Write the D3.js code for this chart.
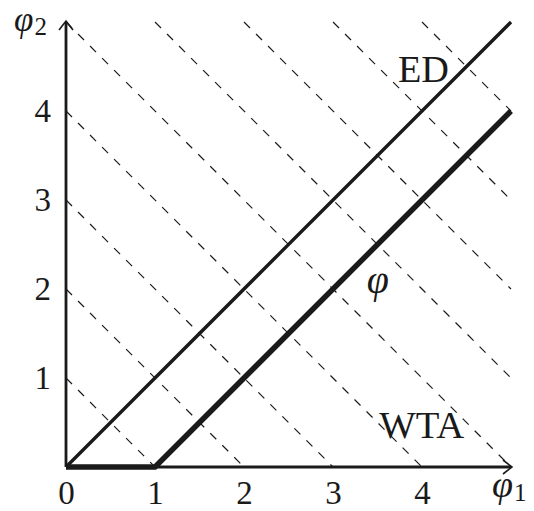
<!DOCTYPE html>
<html>
<head>
<meta charset="utf-8">
<script src="https://cdn.jsdelivr.net/npm/d3@7"></script>
<style>
  html, body { margin: 0; padding: 0; background: #fff; }
  svg { display: block; }
  text { font-family: "Liberation Serif", "DejaVu Serif", serif; fill: #1a1a1a; }
</style>
</head>
<body>
<svg id="chart" width="534" height="511"></svg>
<script>
// ---- data ----
const xTicks = [0, 1, 2, 3, 4];
const yTicks = [1, 2, 3, 4];
const axisMax = 5;
const isoLevels = [1, 2, 3, 4, 5, 6, 7, 8, 9];      // dashed lines  phi1 + phi2 = c
const edLine = [[0, 0], [5, 5]];                    // ED
const phiLine = [[0, 0], [1, 0], [5, 4]];           // phi (thick)
const textLabels = [
  { text: "ED",  x: 3.73, y: 4.33 },
  { text: "WTA", x: 3.52, y: 0.33 },
];

// ---- layout ----
const svg = d3.select("#chart");
const x = d3.scaleLinear().domain([0, axisMax]).range([66, 511]);
const y = d3.scaleLinear().domain([0, axisMax]).range([467, 22]);
const ink = "#1a1a1a";
const line = d3.line().x(d => x(d[0])).y(d => y(d[1]));

// dashed iso lines, clipped to the square [0,5]x[0,5]
svg.append("g").selectAll("path").data(isoLevels).join("path")
  .attr("d", c => line([[Math.max(0, c - axisMax), Math.min(c, axisMax)],
                        [Math.min(c, axisMax), Math.max(0, c - axisMax)]]))
  .attr("fill", "none").attr("stroke", ink).attr("stroke-width", 1.2)
  .attr("stroke-dasharray", "8.5,8.5");

// axes (lines with arrow tips)
svg.append("path").attr("d", line([[0, 0], [axisMax, 0]]))
  .attr("stroke", ink).attr("stroke-width", 3.2).attr("fill", "none");
svg.append("path").attr("d", line([[0, 0], [0, axisMax]]))
  .attr("stroke", ink).attr("stroke-width", 2.8).attr("fill", "none");
// arrow tips
const ax = x(axisMax), ay = y(0);
svg.append("path")
  .attr("d", `M${ax - 8},${ay - 7} L${ax + 1},${ay} L${ax - 8},${ay + 7}`)
  .attr("stroke", ink).attr("stroke-width", 1.6).attr("fill", "none");
const bx = x(0), by = y(axisMax);
svg.append("path")
  .attr("d", `M${bx - 7},${by + 8} L${bx},${by - 1} L${bx + 7},${by + 8}`)
  .attr("stroke", ink).attr("stroke-width", 1.6).attr("fill", "none");

// ED line
svg.append("path").attr("d", line(edLine))
  .attr("stroke", ink).attr("stroke-width", 3.4).attr("fill", "none");
// phi line (thick)
svg.append("path").attr("d", line(phiLine))
  .attr("stroke", ink).attr("stroke-width", 5.5).attr("fill", "none")
  .attr("stroke-linejoin", "miter");

// tick labels via d3 axes
const gx = svg.append("g").attr("transform", `translate(0,${y(0)})`)
  .call(d3.axisBottom(x).tickValues(xTicks).tickSize(0).tickPadding(14).tickFormat(d3.format("d")));
const gy = svg.append("g").attr("transform", `translate(${x(0)},0)`)
  .call(d3.axisLeft(y).tickValues(yTicks).tickSize(0).tickPadding(15).tickFormat(d3.format("d")));
[gx, gy].forEach(g => {
  g.select(".domain").remove();
  g.selectAll("text").attr("font-size", 33).attr("fill", ink)
    .attr("font-family", '"Liberation Serif", "DejaVu Serif", serif');
});

// axis names
function varphiLabel(px, py, sub, fs) {
  const t = svg.append("text").attr("x", px).attr("y", py).attr("font-size", fs);
  t.append("tspan").attr("font-style", "italic").text("φ");
  t.append("tspan").attr("font-size", 25).attr("dx", 1).attr("dy", 4).text(sub);
}
varphiLabel(14, 31, "2", 35);
varphiLabel(492, 497, "1", 38);

// text labels
svg.append("g").selectAll("text").data(textLabels).join("text")
  .attr("x", d => x(d.x)).attr("y", d => y(d.y))
  .attr("font-size", 38).attr("textLength", d => d.text === "ED" ? 51 : 85)
  .attr("lengthAdjust", "spacingAndGlyphs").text(d => d.text);
svg.append("text").attr("x", x(3.38)).attr("y", y(1.95))
  .attr("font-size", 40).attr("font-style", "italic").text("φ");
</script>
</body>
</html>
